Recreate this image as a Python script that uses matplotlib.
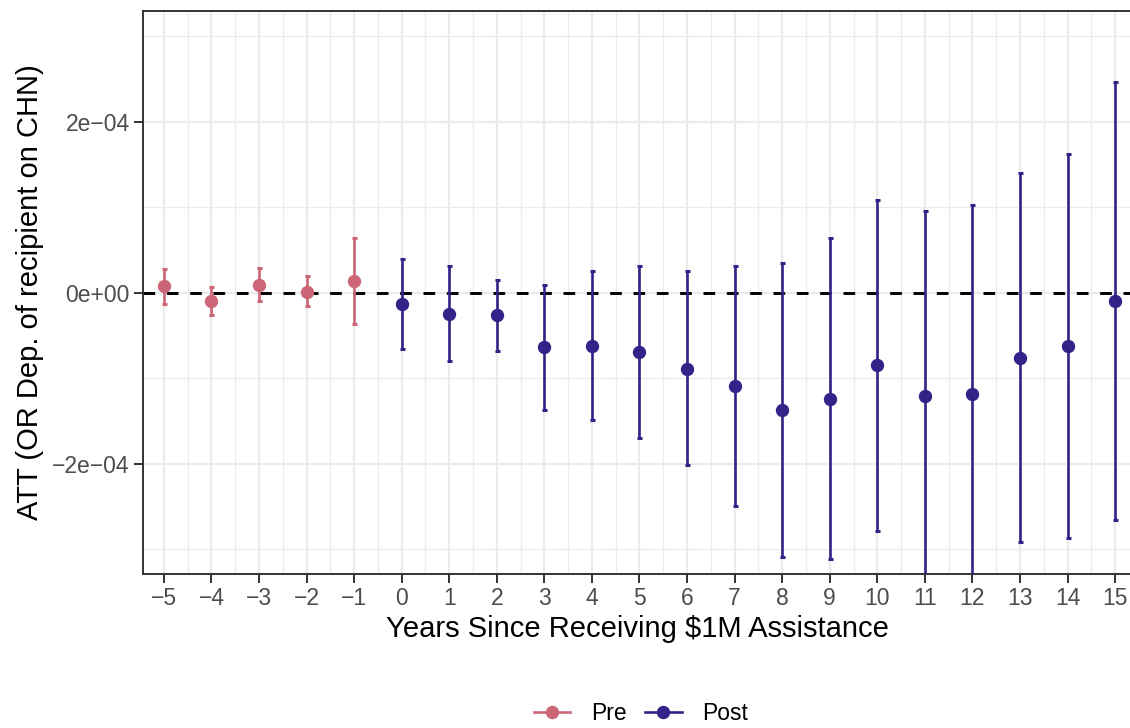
import matplotlib
matplotlib.use("Agg")
import matplotlib.pyplot as plt
from matplotlib.lines import Line2D
from matplotlib.ticker import MultipleLocator, FuncFormatter

plt.rcParams['font.family'] = ['Liberation Sans', 'DejaVu Sans']

# Event-study estimates (ATT) by years relative to receiving assistance
pre_years = [-5, -4, -3, -2, -1]
pre_att = [0.078e-4, -0.10e-4, 0.094e-4, 0.008e-4, 0.137e-4]
pre_lo = [-0.13e-4, -0.265e-4, -0.10e-4, -0.16e-4, -0.366e-4]
pre_hi = [0.28e-4, 0.07e-4, 0.29e-4, 0.19e-4, 0.636e-4]

post_years = [0, 1, 2, 3, 4, 5, 6, 7, 8, 9, 10, 11, 12, 13, 14, 15]
post_att = [-0.132e-4, -0.249e-4, -0.265e-4, -0.635e-4, -0.623e-4, -0.694e-4,
            -0.888e-4, -1.095e-4, -1.376e-4, -1.243e-4, -0.85e-4, -1.21e-4,
            -1.19e-4, -0.76e-4, -0.62e-4, -0.094e-4]
post_lo = [-0.66e-4, -0.80e-4, -0.68e-4, -1.368e-4, -1.49e-4, -1.70e-4,
           -2.02e-4, -2.49e-4, -3.09e-4, -3.11e-4, -2.79e-4, -3.60e-4,
           -3.65e-4, -2.92e-4, -2.87e-4, -2.655e-4]
post_hi = [0.398e-4, 0.309e-4, 0.152e-4, 0.09e-4, 0.25e-4, 0.316e-4,
           0.254e-4, 0.312e-4, 0.351e-4, 0.636e-4, 1.08e-4, 0.952e-4,
           1.03e-4, 1.397e-4, 1.62e-4, 2.47e-4]

x_ticks = list(range(-5, 16))
y_ticks = [-2e-4, 0.0, 2e-4]

pre_color = "#CC6677"
post_color = "#332288"
tick_color = "#4D4D4D"
frame_color = "#333333"
grid_color = "#EBEBEB"

fig = plt.figure(figsize=(11.3, 7.28), dpi=100)
ax = fig.add_axes([143 / 1130, 1 - 574 / 728, 993 / 1130, 563 / 728])


def draw(years, att, lo, hi, color):
    yerr = [[a - l for a, l in zip(att, lo)], [h - a for a, h in zip(att, hi)]]
    ax.errorbar(years, att, yerr=yerr, fmt='o', color=color, ms=8.6,
                elinewidth=1.9, capsize=1.8, capthick=2.2, zorder=3)


ax.axhline(0, color='black', lw=2.1, dashes=(4, 4), zorder=2)
draw(pre_years, pre_att, pre_lo, pre_hi, pre_color)
draw(post_years, post_att, post_lo, post_hi, post_color)

ax.set_xlim(-5.44, 15.44)
ax.set_ylim(-3.29e-4, 3.295e-4)

ax.set_xticks(x_ticks)
ax.xaxis.set_minor_locator(MultipleLocator(0.5))
ax.set_yticks(y_ticks)
ax.yaxis.set_minor_locator(MultipleLocator(1e-4))


def sci_label(v, pos):
    if v == 0:
        return "0e+00"
    s = "{:.0e}".format(v)
    return s.replace("-", "\u2212")


ax.yaxis.set_major_formatter(FuncFormatter(sci_label))
ax.xaxis.set_major_formatter(FuncFormatter(lambda v, p: str(int(v)).replace("-", "\u2212")))

ax.grid(which='major', color=grid_color, lw=1.6, zorder=0)
ax.grid(which='minor', color=grid_color, lw=0.9, zorder=0)
ax.set_axisbelow(True)

for s in ax.spines.values():
    s.set_color(frame_color)
    s.set_linewidth(1.4)

ax.tick_params(which='major', length=6.5, width=1.4, color=frame_color,
               labelsize=16.5, labelcolor=tick_color, pad=3)
ax.tick_params(which='minor', length=0)

fig.text(637 / 1130, 1 - 629 / 728, "Years Since Receiving $1M Assistance",
         ha='center', va='center', fontsize=21)
fig.text(30 / 1130, 1 - 292.5 / 728, "ATT (OR Dep. of recipient on CHN)",
         ha='center', va='center', rotation=90, fontsize=21)

handles = [Line2D([], [], color=pre_color, marker='o', ms=8.6, lw=1.9),
           Line2D([], [], color=post_color, marker='o', ms=8.6, lw=1.9)]
fig.legend(handles, ["Pre", "Post"], loc='center', ncol=2, frameon=False,
           bbox_to_anchor=(641 / 1130, 1 - 714 / 728), fontsize=16.5,
           handlelength=1.6, handletextpad=0.9, columnspacing=0.8)

fig.savefig("out.png", dpi=100)
